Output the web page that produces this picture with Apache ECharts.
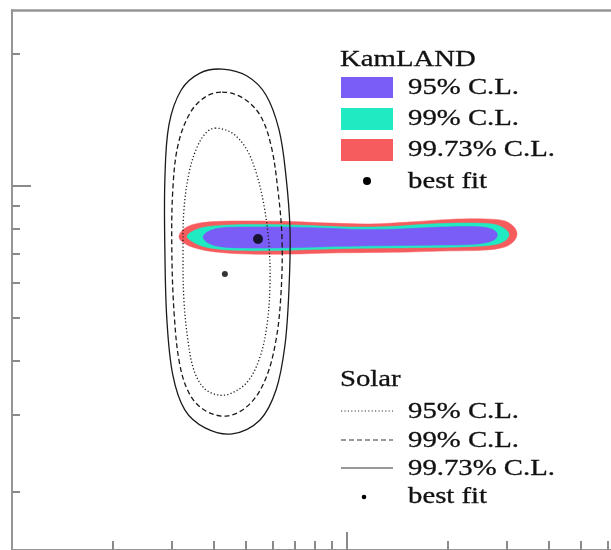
<!DOCTYPE html>
<html>
<head>
<meta charset="utf-8">
<script src="https://cdn.jsdelivr.net/npm/echarts@6/dist/echarts.min.js"></script>
<style>
  html, body { margin: 0; padding: 0; background: #fff; }
  #chart { width: 611px; height: 550px; }
</style>
</head>
<body>
<div id="chart"></div>
<script>
// x: tan^2(theta), log scale; y: delta m^2 in units of 1e-5 eV^2, log scale
const xRange = [0.1, 6.14];
const yRange = [1.475, 25.23];
const xMinorTicks = [0.2, 0.3, 0.4, 0.5, 0.6, 0.7, 0.8, 0.9, 2, 3, 4, 5, 6];
const xMajorTicks = [1];
const yMinorTicks = [2, 3, 4, 5, 6, 7, 8, 9, 20];
const yMajorTicks = [10];

// KamLAND allowed regions (closed outlines)
const kamland9973 = [[0.315,7.65],[0.326,7.98],[0.352,8.19],[0.404,8.295],[0.513,8.32],[0.676,8.295],[0.890,8.23],[1.171,8.19],[1.542,8.275],[2.030,8.39],[2.582,8.41],[2.962,8.32],[3.152,8.06],[3.218,7.77],[3.152,7.49],[2.962,7.26],[2.582,7.14],[2.030,7.11],[1.542,7.07],[1.171,7.05],[0.890,7.03],[0.676,6.99],[0.513,6.99],[0.404,7.07],[0.352,7.22],[0.326,7.41]];
const kamland99 = [[0.333,7.67],[0.347,7.89],[0.377,8.06],[0.447,8.15],[0.589,8.17],[0.776,8.125],[1.021,8.06],[1.344,8.08],[1.769,8.19],[2.329,8.23],[2.766,8.17],[2.962,7.98],[3.045,7.77],[2.983,7.53],[2.766,7.35],[2.329,7.27],[1.769,7.24],[1.344,7.22],[1.021,7.20],[0.776,7.16],[0.589,7.12],[0.447,7.14],[0.377,7.26],[0.347,7.45]];
const kamland95 = [[0.372,7.65],[0.385,7.87],[0.418,8.02],[0.496,8.06],[0.631,8.06],[0.831,8.02],[1.093,7.96],[1.439,7.98],[1.895,8.06],[2.411,8.08],[2.673,8.00],[2.804,7.81],[2.785,7.59],[2.618,7.43],[2.329,7.35],[1.895,7.33],[1.439,7.31],[1.093,7.29],[0.831,7.26],[0.631,7.22],[0.496,7.22],[0.418,7.27],[0.385,7.41]];

// Solar allowed regions (closed outlines)
const solar9973 = [[0.424,18.49],[0.503,17.83],[0.573,16.14],[0.627,13.43],[0.657,10.59],[0.676,7.93],[0.671,5.79],[0.653,4.335],[0.614,3.42],[0.550,2.923],[0.454,2.716],[0.377,2.803],[0.328,3.081],[0.302,3.703],[0.290,4.944],[0.286,7.14],[0.286,10.32],[0.294,13.78],[0.320,16.57],[0.364,18.11]];
const solar99 = [[0.424,16.39],[0.489,15.88],[0.550,14.52],[0.593,12.40],[0.622,9.79],[0.640,7.53],[0.635,5.64],[0.614,4.45],[0.573,3.644],[0.513,3.18],[0.441,2.985],[0.379,3.064],[0.340,3.333],[0.317,3.903],[0.305,5.076],[0.300,7.14],[0.302,9.79],[0.313,12.40],[0.340,14.68],[0.377,15.96]];
const solar95 = [[0.404,13.56],[0.454,13.21],[0.499,12.21],[0.535,10.76],[0.565,9.05],[0.585,7.33],[0.589,5.94],[0.577,4.815],[0.550,4.07],[0.507,3.587],[0.454,3.369],[0.412,3.333],[0.374,3.458],[0.349,3.802],[0.335,4.45],[0.326,5.49],[0.324,6.96],[0.326,8.81],[0.338,10.76],[0.357,12.27],[0.379,13.21]];

const kamlandBestFit = [0.5425, 7.57];
const solarBestFit = [0.432, 6.30];

const RED = '#F65C5E', CYAN = '#1FEAC2', PURPLE = '#7A5CF6';
const FRAME = '#959595', TICK = '#8a8a8a', INK = '#111111', LINE = '#1a1a1a';
const FONT = '23px "Liberation Serif", "Times New Roman", serif';

function filledRegion(name, pts, color) {
  return {
    type: 'custom', name: name, data: [pts[0]], silent: true,
    renderItem: function (params, api) {
      return {
        type: 'polygon',
        shape: { points: pts.map(function (p) { return api.coord(p); }), smooth: 0.35 },
        style: { fill: color, stroke: color, lineWidth: 0.5 }
      };
    }
  };
}

function outlinedRegion(name, pts, dash, width) {
  return {
    type: 'custom', name: name, data: [pts[0]], silent: true,
    renderItem: function (params, api) {
      return {
        type: 'polygon',
        shape: { points: pts.map(function (p) { return api.coord(p); }), smooth: 0.35 },
        style: { fill: 'none', stroke: LINE, lineWidth: width, lineDash: dash }
      };
    }
  };
}

function axisBase(range) {
  return {
    type: 'log', logBase: 10, min: range[0], max: range[1],
    axisLabel: { show: false }, splitLine: { show: false }, minorTick: { show: false }
  };
}

function withTicks(range, values, len, showLine, position) {
  return Object.assign(axisBase(range), {
    position: position,
    axisLine: { show: showLine, lineStyle: { color: FRAME, width: 2 } },
    axisTick: { show: true, inside: true, length: len, customValues: values,
                lineStyle: { color: TICK, width: 2 } }
  });
}

function legendText(x, y, text) {
  return { type: 'text', x: x, y: y, scaleX: 1.25, z: 100,
           style: { text: text, font: FONT, fill: INK, stroke: INK, lineWidth: 0.3,
                    align: 'left', verticalAlign: 'middle' } };
}

const graphics = [
  legendText(340, 60, 'KamLAND'),
  { type: 'rect', shape: { x: 341, y: 77, width: 52, height: 21 }, style: { fill: PURPLE } },
  { type: 'rect', shape: { x: 341, y: 108, width: 52, height: 22 }, style: { fill: CYAN } },
  { type: 'rect', shape: { x: 341, y: 139, width: 52, height: 22 }, style: { fill: RED } },
  legendText(408, 88, '95% C.L.'),
  legendText(408, 119, '99% C.L.'),
  legendText(408, 150, '99.73% C.L.'),
  { type: 'circle', shape: { cx: 367, cy: 181, r: 4 }, style: { fill: '#000' } },
  legendText(408, 182, 'best fit'),

  legendText(340, 380, 'Solar'),
  { type: 'line', shape: { x1: 341, y1: 411, x2: 393, y2: 411 }, style: { stroke: '#333', lineWidth: 1.2, lineDash: [1.2, 2.2] } },
  { type: 'line', shape: { x1: 341, y1: 440, x2: 393, y2: 440 }, style: { stroke: '#333', lineWidth: 1.2, lineDash: [5, 3] } },
  { type: 'line', shape: { x1: 341, y1: 468, x2: 393, y2: 468 }, style: { stroke: '#333', lineWidth: 1.2 } },
  legendText(408, 412, '95% C.L.'),
  legendText(408, 441, '99% C.L.'),
  legendText(408, 469, '99.73% C.L.'),
  { type: 'circle', shape: { cx: 364, cy: 497, r: 2.3 }, style: { fill: '#000' } },
  legendText(408, 497, 'best fit')
];

const chart = echarts.init(document.getElementById('chart'), null, { renderer: 'canvas' });
chart.setOption({
  animation: false,
  backgroundColor: '#fff',
  grid: { left: 12, top: 10, right: 0, bottom: 0, containLabel: false },
  xAxis: [
    withTicks(xRange, xMinorTicks, 9, true, 'bottom'),
    withTicks(xRange, xMajorTicks, 18, false, 'bottom'),
    Object.assign(axisBase(xRange), { position: 'top',
      axisLine: { show: true, lineStyle: { color: FRAME, width: 2.5 } }, axisTick: { show: false } })
  ],
  yAxis: [
    withTicks(yRange, yMinorTicks, 8, true, 'left'),
    withTicks(yRange, yMajorTicks, 19, false, 'left')
  ],
  series: [
    filledRegion('KamLAND 99.73% C.L.', kamland9973, RED),
    filledRegion('KamLAND 99% C.L.', kamland99, CYAN),
    filledRegion('KamLAND 95% C.L.', kamland95, PURPLE),
    outlinedRegion('Solar 95% C.L.', solar95, [1.2, 2.2], 1.3),
    outlinedRegion('Solar 99% C.L.', solar99, [5, 3], 1.3),
    outlinedRegion('Solar 99.73% C.L.', solar9973, null, 1.3),
    { type: 'scatter', name: 'KamLAND best fit', data: [kamlandBestFit], symbolSize: 10,
      itemStyle: { color: '#000' }, silent: true, z: 5 },
    { type: 'scatter', name: 'Solar best fit', data: [solarBestFit], symbolSize: 6,
      itemStyle: { color: '#000' }, silent: true, z: 5 }
  ],
  graphic: graphics
});
</script>
</body>
</html>
